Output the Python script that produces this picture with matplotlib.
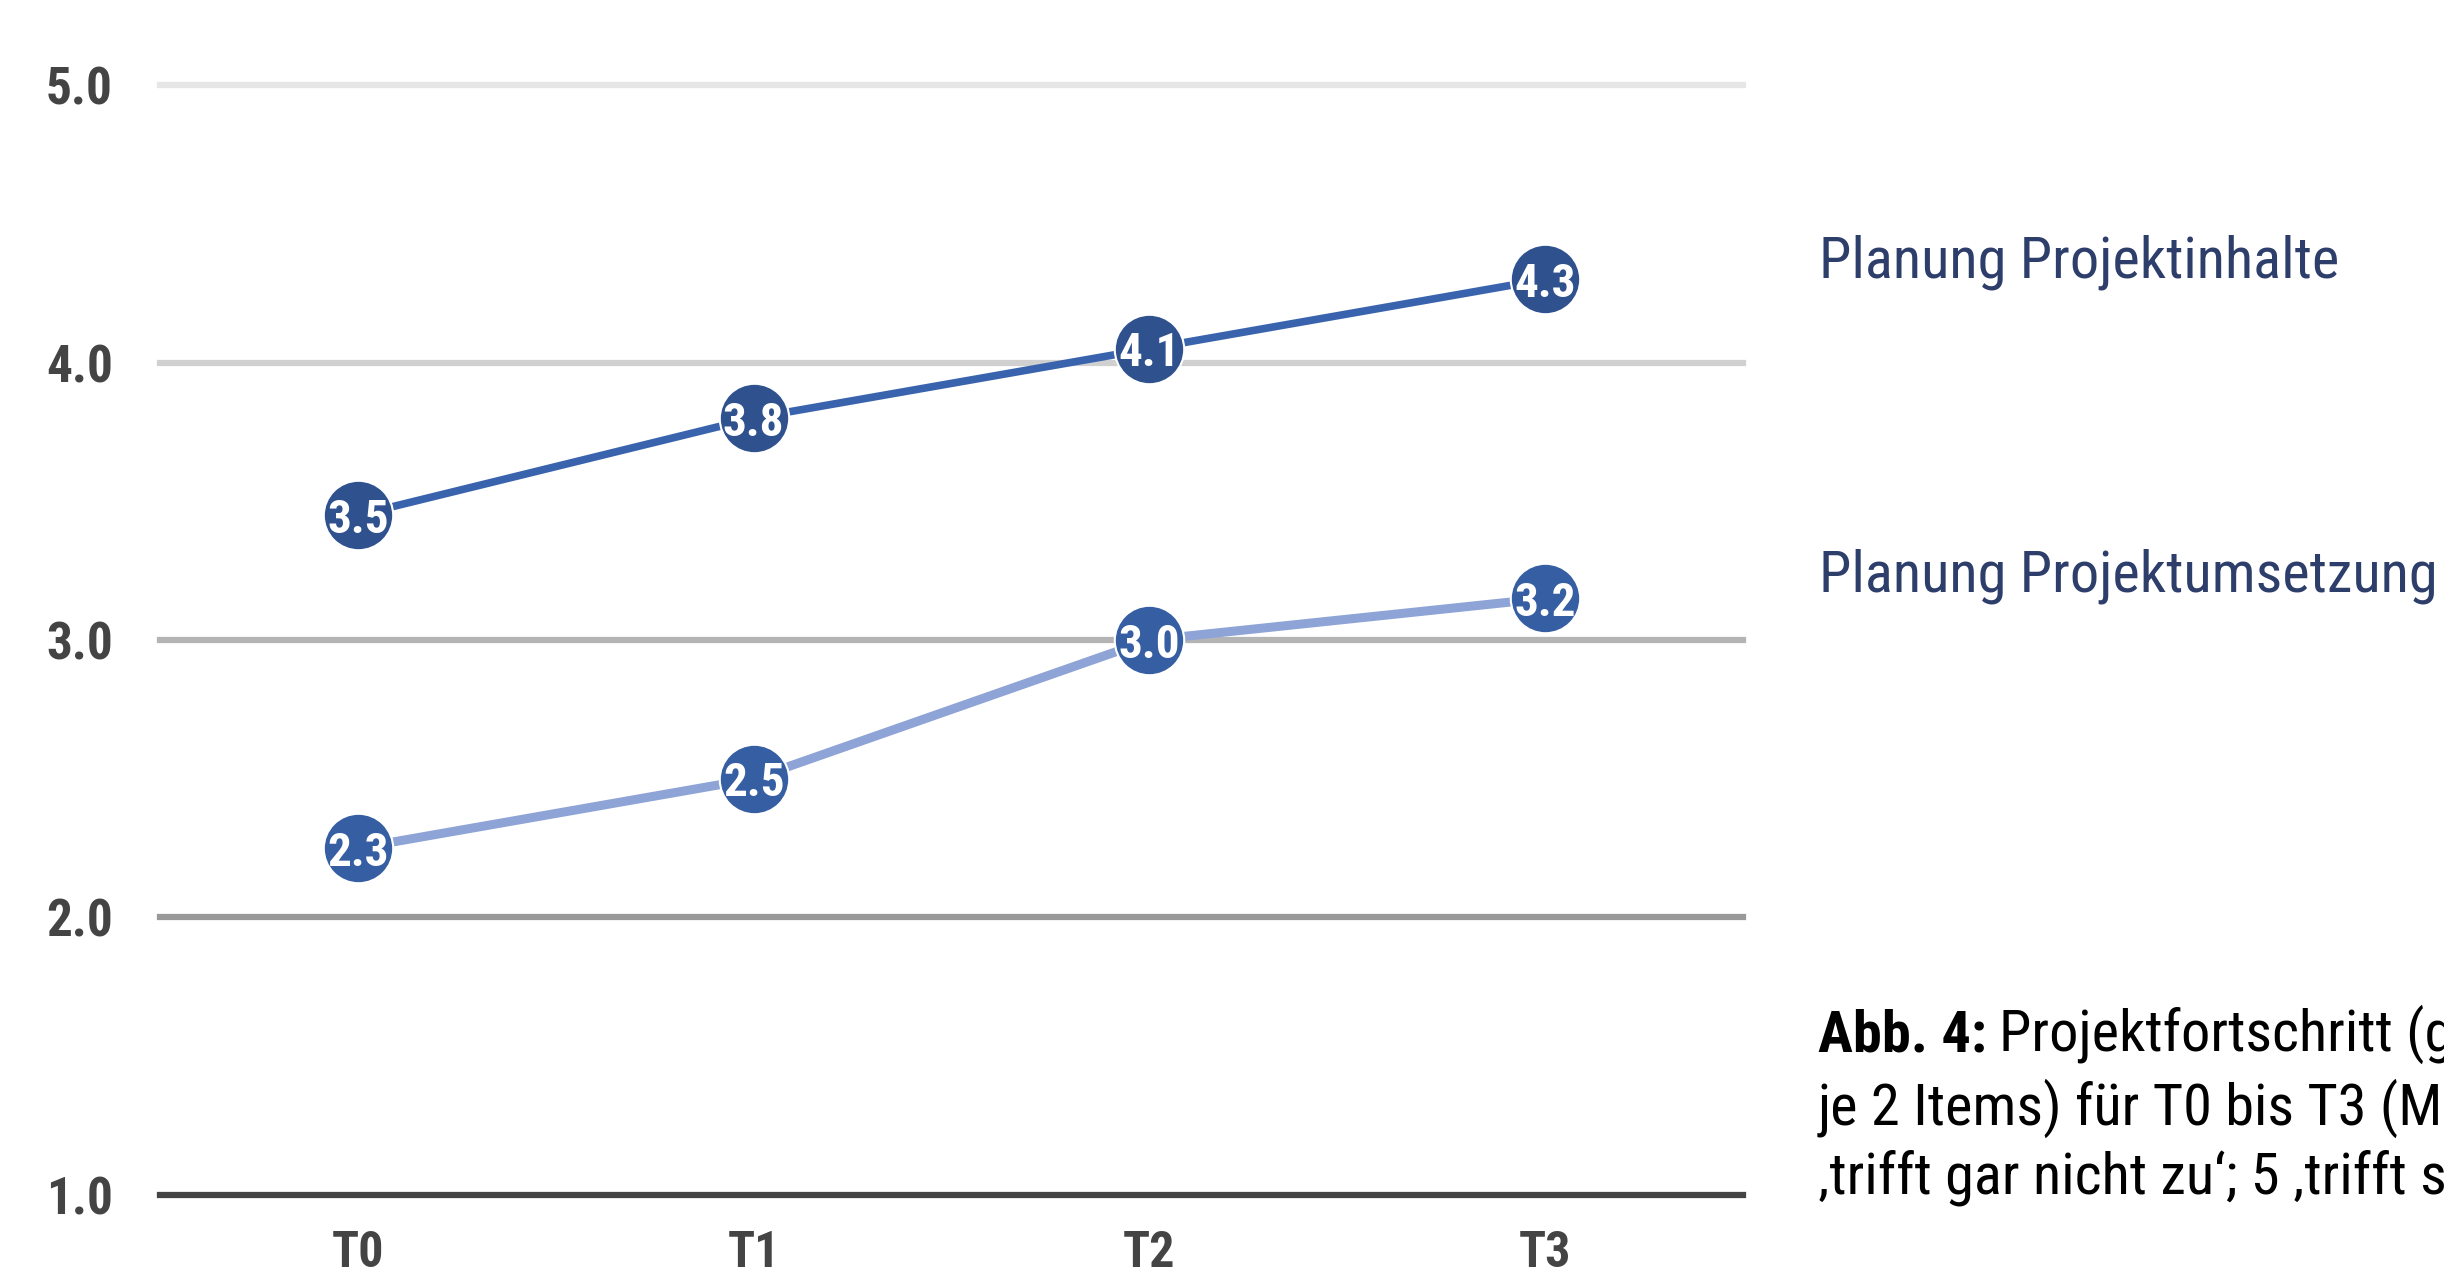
import matplotlib
matplotlib.use('Agg')
import matplotlib.pyplot as plt
from matplotlib import font_manager

# data
zeitpunkte = ['T0', 'T1', 'T2', 'T3']
inhalte = [3.45, 3.80, 4.05, 4.30]
inhalte_labels = ['3.5', '3.8', '4.1', '4.3']
umsetzung = [2.25, 2.50, 3.00, 3.15]
umsetzung_labels = ['2.3', '2.5', '3.0', '3.2']
y_ticks = [1.0, 2.0, 3.0, 4.0, 5.0]
serien_namen = ['Planung Projektinhalte', 'Planung Projektumsetzung']

names = {f.name for f in font_manager.fontManager.ttflist}
fam = ['Roboto Condensed', 'Roboto', 'DejaVu Sans'] if 'Roboto Condensed' in names else ['Roboto', 'DejaVu Sans']
plt.rcParams['font.family'] = fam

fig = plt.figure(figsize=(24.44, 12.79), dpi=100)
ax = fig.add_axes([0.0655, 0.0657, 0.6477, 0.8678])

x = list(range(len(zeitpunkte)))

# gridlines, getting darker towards the bottom
grid_colors = ['#444444', '#999999', '#b4b4b4', '#d0d0d0', '#e6e6e6']
for yv, c in zip(y_ticks, grid_colors):
    ax.axhline(yv, color=c, lw=4.5, clip_on=False, zorder=1)

ax.plot(x, umsetzung, color='#8ea3d6', lw=6.5, zorder=2, solid_capstyle='butt')
ax.plot(x, inhalte, color='#3a63ad', lw=5.5, zorder=2, solid_capstyle='butt')
ax.plot(x, umsetzung, ls='none', marker='o', ms=50, mfc='#365ea2', mec='white', mew=1.5, zorder=3)
ax.plot(x, inhalte, ls='none', marker='o', ms=50, mfc='#2f528f', mec='white', mew=1.5, zorder=3)

for xi, yv, lab in zip(x, inhalte, inhalte_labels):
    ax.text(xi, yv, lab, color='white', fontsize=34, fontweight='bold',
            ha='center', va='center_baseline', zorder=4)
for xi, yv, lab in zip(x, umsetzung, umsetzung_labels):
    ax.text(xi, yv, lab, color='white', fontsize=34, fontweight='bold',
            ha='center', va='center_baseline', zorder=4)

ax.set_xlim(-0.5, 3.5)
ax.set_ylim(1, 5)
ax.set_xticks(x)
ax.set_xticklabels(zeitpunkte)
ax.set_yticks(y_ticks)
ax.set_yticklabels(['%.1f' % v for v in y_ticks])
ax.tick_params(length=0, labelsize=37, labelcolor='#444444')
ax.tick_params(axis='x', pad=25, labelsize=36)
ax.tick_params(axis='y', pad=34)
for lab in ax.get_xticklabels() + ax.get_yticklabels():
    lab.set_fontweight('bold')
for s in ax.spines.values():
    s.set_visible(False)

# series names at the right
fig.text(1819 / 2444, 1 - 277 / 1279, serien_namen[0], color='#2d3e6b', fontsize=42, ha='left', va='baseline')
fig.text(1819 / 2444, 1 - 592 / 1279, serien_namen[1], color='#2d3e6b', fontsize=42, ha='left', va='baseline')

# caption (cut off at the right edge, as in the original)
cap_x = 1818 / 2444
t_bold = fig.text(cap_x, 1 - 1051 / 1279, 'Abb. 4:', fontsize=42, fontweight='bold', color='black', va='baseline')
fig.canvas.draw()
bb = t_bold.get_window_extent()
fig.text((bb.x1 + 12) / 2444, 1 - 1051 / 1279, 'Projektfortschritt (gemittelte Skalen,',
         fontsize=42, color='black', va='baseline')
fig.text(cap_x, 1 - 1125 / 1279, 'je 2 Items) für T0 bis T3 (MW; 1',
         fontsize=42, color='black', va='baseline')
fig.text(cap_x, 1 - 1194 / 1279, '\u201atrifft gar nicht zu\u2018; 5 \u201atrifft sehr zu\u2018)',
         fontsize=42, color='black', va='baseline')

fig.savefig('out.png', dpi=100, facecolor='white')
